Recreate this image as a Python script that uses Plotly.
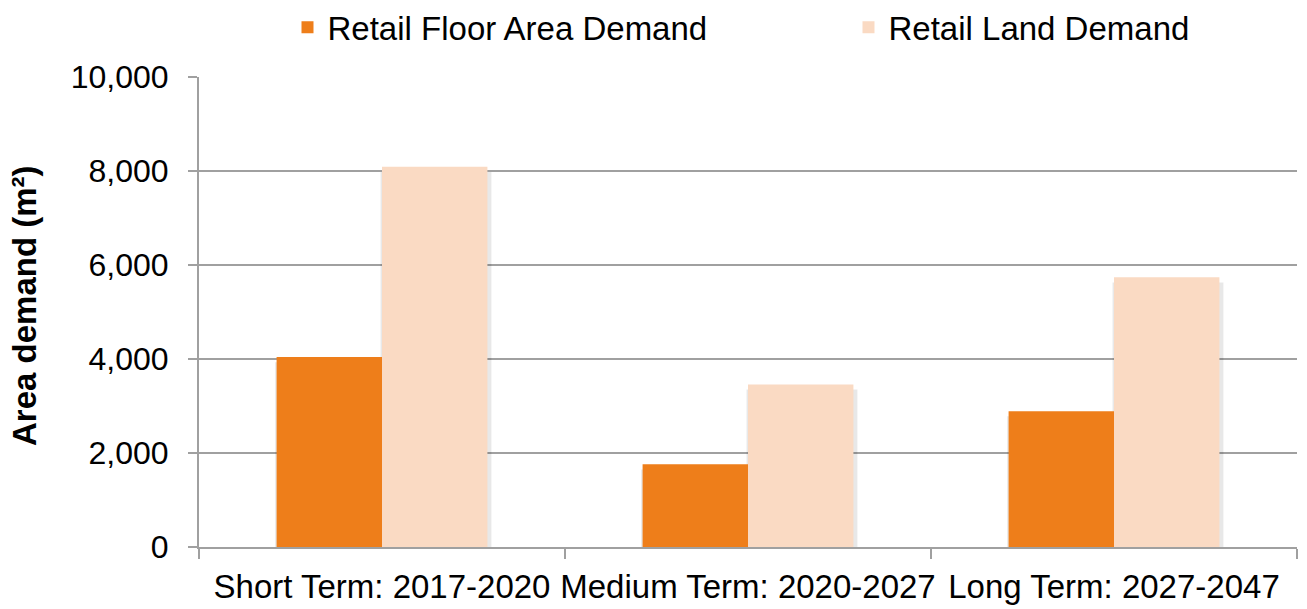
import plotly.graph_objects as go

# Retail demand by planning horizon (m²)
periods = ["Short Term: 2017-2020", "Medium Term: 2020-2027", "Long Term: 2027-2047"]
floor_area_demand = [4040, 1760, 2890]
land_demand = [8090, 3460, 5740]
y_ticks = [0, 2000, 4000, 6000, 8000, 10000]

FLOOR_COLOR = "#EE7E1A"
LAND_COLOR = "#FADAC3"
SHADOW_COLOR = "rgba(0,0,0,0.09)"
GRID_COLOR = "#A0A0A0"
FONT = "Liberation Sans, Arial, sans-serif"

BAR_W = 0.288
SHADOW_DROP = 110  # shadow sits a little below each bar top

fig = go.Figure()

# soft drop shadows behind each bar
for offset, vals in ((-BAR_W, floor_area_demand), (0.0, land_demand)):
    fig.add_trace(go.Bar(
        x=periods, y=[v - SHADOW_DROP for v in vals],
        offset=offset - 0.004, width=BAR_W + 0.015,
        marker=dict(color=SHADOW_COLOR, line=dict(width=0)),
        showlegend=False, hoverinfo="skip",
    ))

fig.add_trace(go.Bar(
    x=periods, y=floor_area_demand, name="Retail Floor Area Demand",
    offset=-BAR_W, width=BAR_W, legendwidth=516,
    marker=dict(color=FLOOR_COLOR, line=dict(width=0)),
))
fig.add_trace(go.Bar(
    x=periods, y=land_demand, name="Retail Land Demand",
    offset=0.0, width=BAR_W, legendwidth=320,
    marker=dict(color=LAND_COLOR, line=dict(width=0)),
))

fig.update_layout(
    width=1307, height=609,
    barmode="overlay",
    plot_bgcolor="white", paper_bgcolor="white",
    margin=dict(l=199, r=10, t=77, b=62, autoexpand=False),
    font=dict(family=FONT, size=32, color="black"),
    legend=dict(
        orientation="h", x=0.0806, xanchor="left", y=1.1057, yanchor="middle",
        font=dict(family=FONT, size=33, color="black"),
        bgcolor="rgba(0,0,0,0)",
    ),
    hovermode=False,
    annotations=[dict(
        text="<b>Area demand (m²)</b>", textangle=-90,
        xref="paper", x=0, xanchor="center", xshift=-175,
        yref="paper", y=0.5, yanchor="middle", yshift=6,
        showarrow=False, font=dict(family=FONT, size=33, color="black"),
    )],
)

fig.update_xaxes(
    type="category",
    showline=True, linecolor=GRID_COLOR, linewidth=2,
    ticks="outside", tickson="boundaries", ticklen=10, tickwidth=2,
    tickcolor=GRID_COLOR, ticklabelstandoff=9, tickangle=0,
    tickfont=dict(family=FONT, size=33, color="black"),
    showgrid=False, automargin=False,
)

fig.update_yaxes(
    range=[0, 10000], tickvals=y_ticks,
    ticktext=[f"{v:,}" for v in y_ticks],
    showline=True, linecolor=GRID_COLOR, linewidth=2,
    ticks="outside", ticklen=9, tickwidth=2, tickcolor=GRID_COLOR,
    ticklabelstandoff=13,
    showgrid=True, gridcolor=GRID_COLOR, gridwidth=2,
    zeroline=False,
    tickfont=dict(family=FONT, size=32, color="black"),
    automargin=False,
)

fig.write_html("out.html")
